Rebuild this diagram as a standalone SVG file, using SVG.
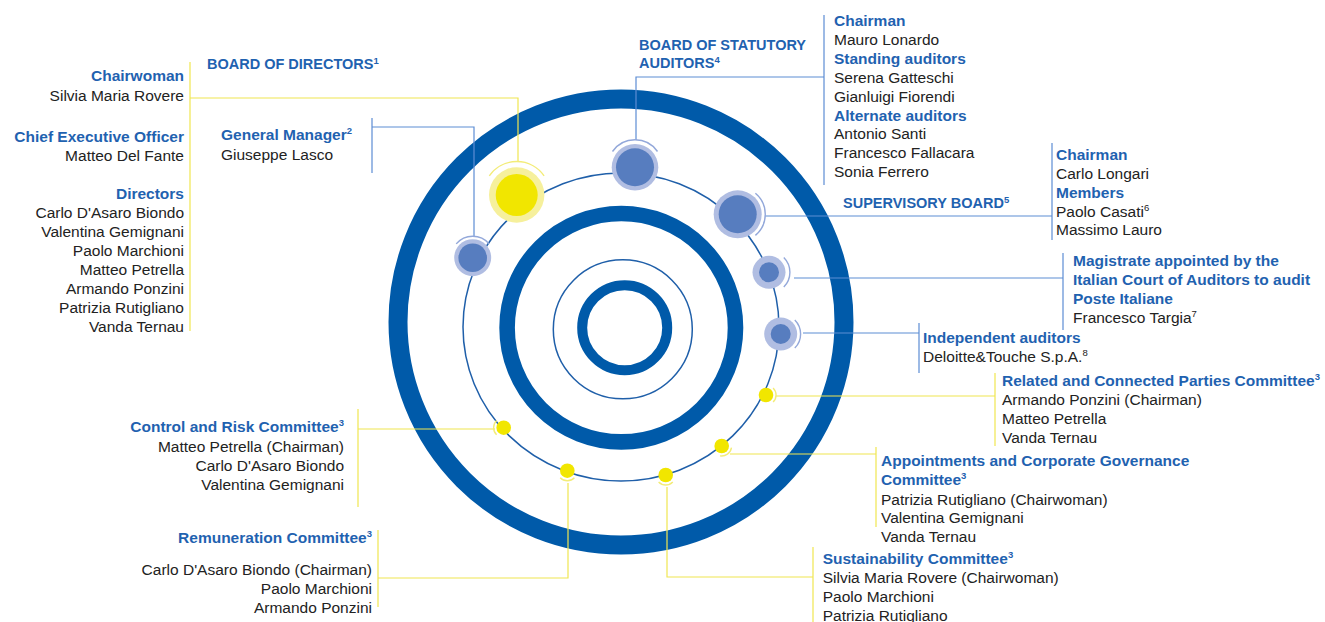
<svg xmlns="http://www.w3.org/2000/svg" width="1325" height="622" viewBox="0 0 1325 622">
<style>
text{font-family:"Liberation Sans",Arial,sans-serif;font-size:15.5px;fill:#222}
.h{font-weight:bold;fill:#1f62b0}
.t{font-weight:bold;fill:#1f62b0;font-size:14.5px}
.r{text-anchor:end}
.sup{font-size:9.5px}
.ring{fill:none;stroke:#005aa9}
.thin{fill:none;stroke:#1f5fa9;stroke-width:1.5}
.cb{fill:none;stroke:#5d8dd4;stroke-width:1.2}
.cy{fill:none;stroke:#f0e650;stroke-width:1.2}
.bo{fill:#b0bde2}
.bi{fill:#577dbf}
.ha{fill:none;stroke:#93a8da;stroke-width:1.4}
.yo{fill:#f6f09c}
.yi{fill:#f1e600}
.hy{fill:none;stroke:#f3ec78;stroke-width:1.4}
</style>
<rect width="1325" height="622" fill="#fff"/>
<g id="rings">
<circle class="ring" cx="621" cy="322" r="223" stroke-width="19"/>
<circle class="ring" cx="621.3" cy="327.7" r="114.2" stroke-width="15.6"/>
<circle class="thin" cx="622.8" cy="329.3" r="69.5"/>
<circle class="ring" cx="624.7" cy="327.7" r="42.5" stroke-width="10"/>
<ellipse class="thin" cx="621" cy="327" rx="158" ry="154"/>
</g>
<g id="connectors">
<path class="cy" d="M190,62V331M190,98H518V162"/>
<path class="cb" d="M372,118V173M372,127H474V236"/>
<path class="cb" d="M824,15V185M824,77H636V140"/>
<path class="cb" d="M1052,143V240M765,216H1052"/>
<path class="cb" d="M1063,253V330M794,278H1063"/>
<path class="cb" d="M919,323V373M803,333H919"/>
<path class="cy" d="M995,373V446M776,396H995"/>
<path class="cy" d="M876,447V527M730,454H876"/>
<path class="cy" d="M813,547V622M667,487V577H813"/>
<path class="cy" d="M358,409V507M358,429H495"/>
<path class="cy" d="M378,530V607M378,578H568V483"/>
</g>
<g id="node-board-of-directors">
<circle class="yo" cx="516.7" cy="195" r="27.7"/>
<circle class="yi" cx="516.7" cy="195" r="21"/>
<path class="hy" d="M489.3,175.8A33.5,33.5 0 0 1 544.1,175.8"/>
<text class="t" x="207" y="69">BOARD OF DIRECTORS<tspan class="sup" dy="-5">1</tspan></text>
<text class="h r" x="184" y="81">Chairwoman</text>
<text class="r" x="184" y="101">Silvia Maria Rovere</text>
<text class="h r" x="184" y="142">Chief Executive Officer</text>
<text class="r" x="184" y="160.5">Matteo Del Fante</text>
<text class="h r" x="184" y="198.5">Directors</text>
<text class="r" x="184" y="217.5">Carlo D'Asaro Biondo</text>
<text class="r" x="184" y="236.5">Valentina Gemignani</text>
<text class="r" x="184" y="255.5">Paolo Marchioni</text>
<text class="r" x="184" y="274.5">Matteo Petrella</text>
<text class="r" x="184" y="293.5">Armando Ponzini</text>
<text class="r" x="184" y="312.5">Patrizia Rutigliano</text>
<text class="r" x="184" y="331.5">Vanda Ternau</text>
</g>
<g id="node-general-manager">
<circle class="bo" cx="472.7" cy="257.7" r="18.5"/>
<circle class="bi" cx="472.7" cy="257.7" r="14.3"/>
<path class="ha" d="M456.2,243.9A21.5,21.5 0 0 1 489.2,243.9"/>
<text class="h" x="221" y="140">General Manager<tspan class="sup" dy="-6">2</tspan></text>
<text x="221" y="159.5">Giuseppe Lasco</text>
</g>
<g id="node-statutory-auditors">
<circle class="bo" cx="635" cy="167.3" r="23.3"/>
<circle class="bi" cx="635" cy="167.3" r="19"/>
<path class="ha" d="M612.5,151.5A27.5,27.5 0 0 1 657.5,151.5"/>
<text class="t" x="639" y="49.5">BOARD OF STATUTORY</text>
<text class="t" x="639" y="68">AUDITORS<tspan class="sup" dy="-5">4</tspan></text>
<text class="h" x="834" y="26">Chairman</text>
<text x="834" y="45">Mauro Lonardo</text>
<text class="h" x="834" y="64">Standing auditors</text>
<text x="834" y="82.7">Serena Gatteschi</text>
<text x="834" y="101.5">Gianluigi Fiorendi</text>
<text class="h" x="834" y="120.5">Alternate auditors</text>
<text x="834" y="139.3">Antonio Santi</text>
<text x="834" y="158.2">Francesco Fallacara</text>
<text x="834" y="177">Sonia Ferrero</text>
</g>
<g id="node-supervisory-board">
<circle class="bo" cx="737.7" cy="214.3" r="24"/>
<circle class="bi" cx="737.7" cy="214.3" r="19"/>
<path class="ha" d="M755.4,193.2A27.5,27.5 0 0 1 755.4,235.4"/>
<text class="t" x="843" y="208">SUPERVISORY BOARD<tspan class="sup" dy="-5">5</tspan></text>
<text class="h" x="1056" y="160">Chairman</text>
<text x="1056" y="179">Carlo Longari</text>
<text class="h" x="1056" y="197.7">Members</text>
<text x="1056" y="216.7">Paolo Casati<tspan class="sup" dy="-6">6</tspan></text>
<text x="1056" y="235.3">Massimo Lauro</text>
</g>
<g id="node-magistrate">
<circle class="bo" cx="769" cy="272.3" r="16.5"/>
<circle class="bi" cx="769" cy="272.3" r="10"/>
<path class="ha" d="M783.8,257.5A21,21 0 0 1 783.8,287.1"/>
<text class="h" x="1073" y="266">Magistrate appointed by the</text>
<text class="h" x="1073" y="285">Italian Court of Auditors to audit</text>
<text class="h" x="1073" y="304">Poste Italiane</text>
<text x="1073" y="322.5">Francesco Targia<tspan class="sup" dy="-6">7</tspan></text>
</g>
<g id="node-independent-auditors">
<circle class="bo" cx="780.7" cy="334" r="16.5"/>
<circle class="bi" cx="780.7" cy="334" r="10"/>
<path class="ha" d="M794.8,319.9A20,20 0 0 1 794.8,348.1"/>
<text class="h" x="923" y="342.5">Independent auditors</text>
<text x="923" y="361.7">Deloitte&amp;Touche S.p.A.<tspan class="sup" dy="-6">8</tspan></text>
</g>
<g id="node-related-parties">
<circle class="yi" cx="766" cy="395" r="7.3"/>
<path class="hy" d="M773.1,387.9A10,10 0 0 1 773.1,402.1"/>
<text class="h" x="1002" y="385.7">Related and Connected Parties Committee<tspan class="sup" dy="-6">3</tspan></text>
<text x="1002" y="405">Armando Ponzini (Chairman)</text>
<text x="1002" y="424">Matteo Petrella</text>
<text x="1002" y="443">Vanda Ternau</text>
</g>
<g id="node-appointments">
<circle class="yi" cx="721.7" cy="446" r="7.3"/>
<path class="hy" d="M731.5,447.7A10,10 0 0 1 720,455.9"/>
<text class="h" x="881" y="466">Appointments and Corporate Governance</text>
<text class="h" x="881" y="485">Committee<tspan class="sup" dy="-6">3</tspan></text>
<text x="881" y="504.5">Patrizia Rutigliano (Chairwoman)</text>
<text x="881" y="523.3">Valentina Gemignani</text>
<text x="881" y="542">Vanda Ternau</text>
</g>
<g id="node-sustainability">
<circle class="yi" cx="665.7" cy="475" r="7.3"/>
<path class="hy" d="M672.8,482.1A10,10 0 0 1 658.6,482.1"/>
<text class="h" x="822.7" y="564">Sustainability Committee<tspan class="sup" dy="-6">3</tspan></text>
<text x="822.7" y="583.3">Silvia Maria Rovere (Chairwoman)</text>
<text x="822.7" y="602.3">Paolo Marchioni</text>
<text x="822.7" y="621">Patrizia Rutigliano</text>
</g>
<g id="node-remuneration">
<circle class="yi" cx="567.3" cy="470.7" r="7.3"/>
<path class="hy" d="M574.4,477.8A10,10 0 0 1 560.2,477.8"/>
<text class="h r" x="372" y="543.3">Remuneration Committee<tspan class="sup" dy="-6">3</tspan></text>
<text class="r" x="372" y="575">Carlo D'Asaro Biondo (Chairman)</text>
<text class="r" x="372" y="594.3">Paolo Marchioni</text>
<text class="r" x="372" y="613.3">Armando Ponzini</text>
</g>
<g id="node-control-risk">
<circle class="yi" cx="503.7" cy="427.7" r="7.3"/>
<path class="hy" d="M496.6,434.8A10,10 0 0 1 496.6,420.6"/>
<text class="h r" x="344" y="432.3">Control and Risk Committee<tspan class="sup" dy="-6">3</tspan></text>
<text class="r" x="344" y="451.7">Matteo Petrella (Chairman)</text>
<text class="r" x="344" y="470.7">Carlo D'Asaro Biondo</text>
<text class="r" x="344" y="489.5">Valentina Gemignani</text>
</g>
</svg>
